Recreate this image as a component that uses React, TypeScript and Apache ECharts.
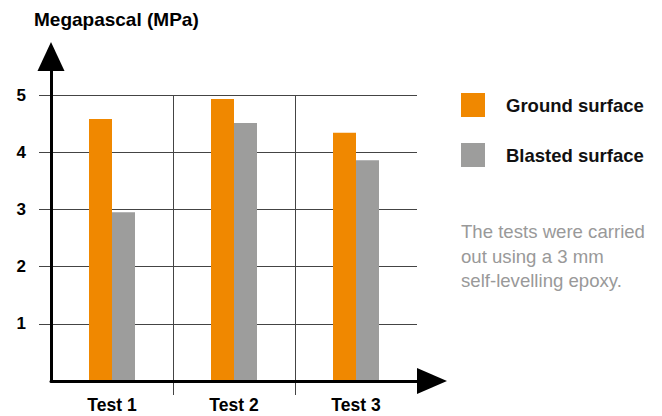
import React, { useEffect, useRef } from "react";
import * as echarts from "echarts";

const categories = ["Test 1", "Test 2", "Test 3"];
const groundSurface = [4.58, 4.93, 4.34];
const blastedSurface = [2.95, 4.51, 3.86];
const yTicks = [1, 2, 3, 4, 5];
const seriesNames = ["Ground surface", "Blasted surface"];
const titleText = "Megapascal (MPa)";
const noteText = "The tests were carried\nout using a 3 mm\nself-levelling epoxy.";

const FONT = '"Liberation Sans", Arial, Helvetica, sans-serif';
const ORANGE = "#F08800";
const GRAY = "#9D9D9C";
const GRID = "#444";

export default function App() {
  const ref = useRef<HTMLDivElement>(null);
  useEffect(() => {
    document.body.style.margin = "0";
    const chart = echarts.init(ref.current!, null, { renderer: "svg" });
    chart.setOption({
      animation: false,
      textStyle: { fontFamily: FONT },
      title: {
        text: titleText,
        left: 34,
        top: 10,
        padding: 0,
        textStyle: { fontFamily: FONT, fontSize: 19, fontWeight: "bold", color: "#000" },
      },
      legend: {
        data: seriesNames,
        orient: "vertical",
        left: 461,
        top: 93,
        padding: 0,
        itemWidth: 24,
        itemHeight: 24,
        itemGap: 26,
        icon: "rect",
        textStyle: {
          fontFamily: FONT,
          fontSize: 18.5,
          fontWeight: "bold",
          color: "#111",
          padding: [0, 0, 0, 16],
        },
      },
      graphic: [
        {
          type: "text",
          left: 461,
          top: 219,
          style: {
            text: noteText,
            fontFamily: FONT,
            fontSize: 18.6,
            lineHeight: 24.7,
            fill: "#999",
          },
        },
      ],
      grid: [
        { left: 51, right: 245, top: 95, bottom: 35 },
        { left: 51, right: 245, top: 71, bottom: 35 },
        { left: 51, right: 245, top: 95, bottom: 21 },
      ],
      xAxis: [
        {
          type: "category",
          gridIndex: 0,
          data: categories,
          boundaryGap: true,
          axisLine: {
            show: true,
            symbol: ["none", "triangle"],
            symbolSize: [26, 30],
            symbolOffset: [0, 15],
            lineStyle: { color: "#000", width: 3 },
          },
          axisTick: { show: false },
          splitLine: { show: false },
          axisLabel: {
            fontFamily: FONT,
            fontSize: 17.5,
            fontWeight: "bold",
            color: "#000",
            margin: 15,
          },
          z: 5,
        },
        { type: "value", gridIndex: 1, show: false },
        {
          type: "category",
          gridIndex: 2,
          data: categories,
          boundaryGap: true,
          axisLine: { show: false },
          axisTick: { show: false },
          axisLabel: { show: false },
          splitLine: {
            show: true,
            showMinLine: false,
            showMaxLine: false,
            lineStyle: { color: GRID, width: 1 },
          },
        },
      ],
      yAxis: [
        {
          type: "value",
          gridIndex: 0,
          min: 0,
          max: 5,
          interval: 1,
          axisLine: { show: false },
          axisTick: {
            show: true,
            length: 12,
            customValues: yTicks,
            lineStyle: { color: GRID, width: 1 },
          },
          axisLabel: {
            customValues: yTicks,
            fontFamily: FONT,
            fontSize: 17,
            fontWeight: "bold",
            color: "#000",
            margin: 25,
          },
          splitLine: { show: true, lineStyle: { color: GRID, width: 1 } },
        },
        {
          type: "value",
          gridIndex: 1,
          min: 0,
          max: 1,
          axisLine: {
            show: true,
            symbol: ["none", "triangle"],
            symbolSize: [27, 29],
            symbolOffset: [0, 14.5],
            lineStyle: { color: "#000", width: 3 },
          },
          axisTick: { show: false },
          axisLabel: { show: false },
          splitLine: { show: false },
          z: 6,
        },
        { type: "value", gridIndex: 2, show: false },
      ],
      series: [
        {
          name: seriesNames[0],
          type: "bar",
          xAxisIndex: 0,
          yAxisIndex: 0,
          data: groundSurface,
          barWidth: 23,
          barGap: "0%",
          itemStyle: { color: ORANGE },
        },
        {
          name: seriesNames[1],
          type: "bar",
          xAxisIndex: 0,
          yAxisIndex: 0,
          data: blastedSurface,
          barWidth: 23,
          barGap: "0%",
          itemStyle: { color: GRAY },
        },
      ],
    });
    return () => chart.dispose();
  }, []);
  return <div ref={ref} style={{ width: 662, height: 416 }} />;
}
